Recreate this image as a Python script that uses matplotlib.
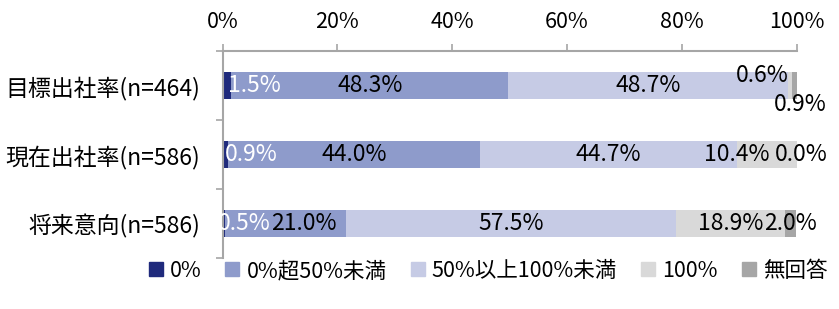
import matplotlib
matplotlib.use('Agg')
import matplotlib.pyplot as plt
from matplotlib.lines import Line2D
import numpy as np

plt.rcParams['font.family'] = ['Noto Sans CJK JP', 'DejaVu Sans']

categories = ['目標出社率(n=464)', '現在出社率(n=586)', '将来意向(n=586)']
series = ['0%', '0%超50%未満', '50%以上100%未満', '100%', '無回答']
values = np.array([
    [1.5, 48.3, 48.7, 0.6, 0.9],
    [0.9, 44.0, 44.7, 10.4, 0.0],
    [0.5, 21.0, 57.5, 18.9, 2.0],
])
colors = ['#1f2a7c', '#8e9bcb', '#c6cbe5', '#d9d9d9', '#a6a6a6']
label_colors = ['white', 'black', 'black', 'black', 'black']
# manual label nudges (x in %, y in row units), as in the source
dx = np.array([
    [4.75, 0, 0, -4.8, 1.0],
    [4.5, 0, 0, -5.2, 0.8],
    [3.5, 3.1, 0, 0, 0],
])
dy = np.array([
    [0, 0, 0, -0.14, 0.27],
    [0, 0, 0, 0, 0],
    [0, 0, 0, 0, 0],
])

fig = plt.figure(figsize=(8.39, 3.09), dpi=100)
ax = fig.add_axes([0.2652, 0.165, 0.9496 - 0.2652, 0.835 - 0.165])

y = np.arange(len(categories))
left = np.zeros(len(categories))
for j, s in enumerate(series):
    ax.barh(y, values[:, j], left=left, height=0.4, color=colors[j], label=s)
    for i in range(len(categories)):
        xc = left[i] + values[i, j] / 2 + dx[i, j]
        ax.text(xc, y[i] + dy[i, j], f'{values[i, j]:.1f}%', ha='center', va='center',
                fontsize=16.5, color=label_colors[j])
    left += values[:, j]

ax.set_xlim(0, 100)
ax.set_ylim(2.5, -0.5)
ax.xaxis.tick_top()
ax.set_xticks(np.arange(0, 101, 20))
ax.set_xticklabels([f'{v}%' for v in range(0, 101, 20)])
ax.tick_params(axis='x', direction='out', length=5, width=1.2, color='#a6a6a6',
               pad=8, labelsize=15.5)
ax.set_yticks(y)
ax.set_yticklabels(categories)
ax.tick_params(axis='y', which='major', length=0, pad=16, labelsize=16.5)
ax.set_yticks([-0.5, 0.5, 1.5, 2.5], minor=True)
ax.tick_params(axis='y', which='minor', direction='out', length=5, width=1.2,
               color='#a6a6a6')
for sp in ['right', 'bottom']:
    ax.spines[sp].set_visible(False)
for sp in ['left', 'top']:
    ax.spines[sp].set_color('#a6a6a6')
    ax.spines[sp].set_linewidth(1.5)

handles = [Line2D([], [], marker='s', linestyle='none', markersize=9.5,
                  markerfacecolor=c, markeredgecolor=c) for c in colors]
fig.legend(handles, series, loc='center left', bbox_to_anchor=(148 / 839, 1 - 271 / 309),
           ncol=5, frameon=False, fontsize=15.5, handlelength=0.7, handletextpad=0.3,
           columnspacing=1.1, borderaxespad=0, borderpad=0)

fig.savefig('out.png', dpi=100)
